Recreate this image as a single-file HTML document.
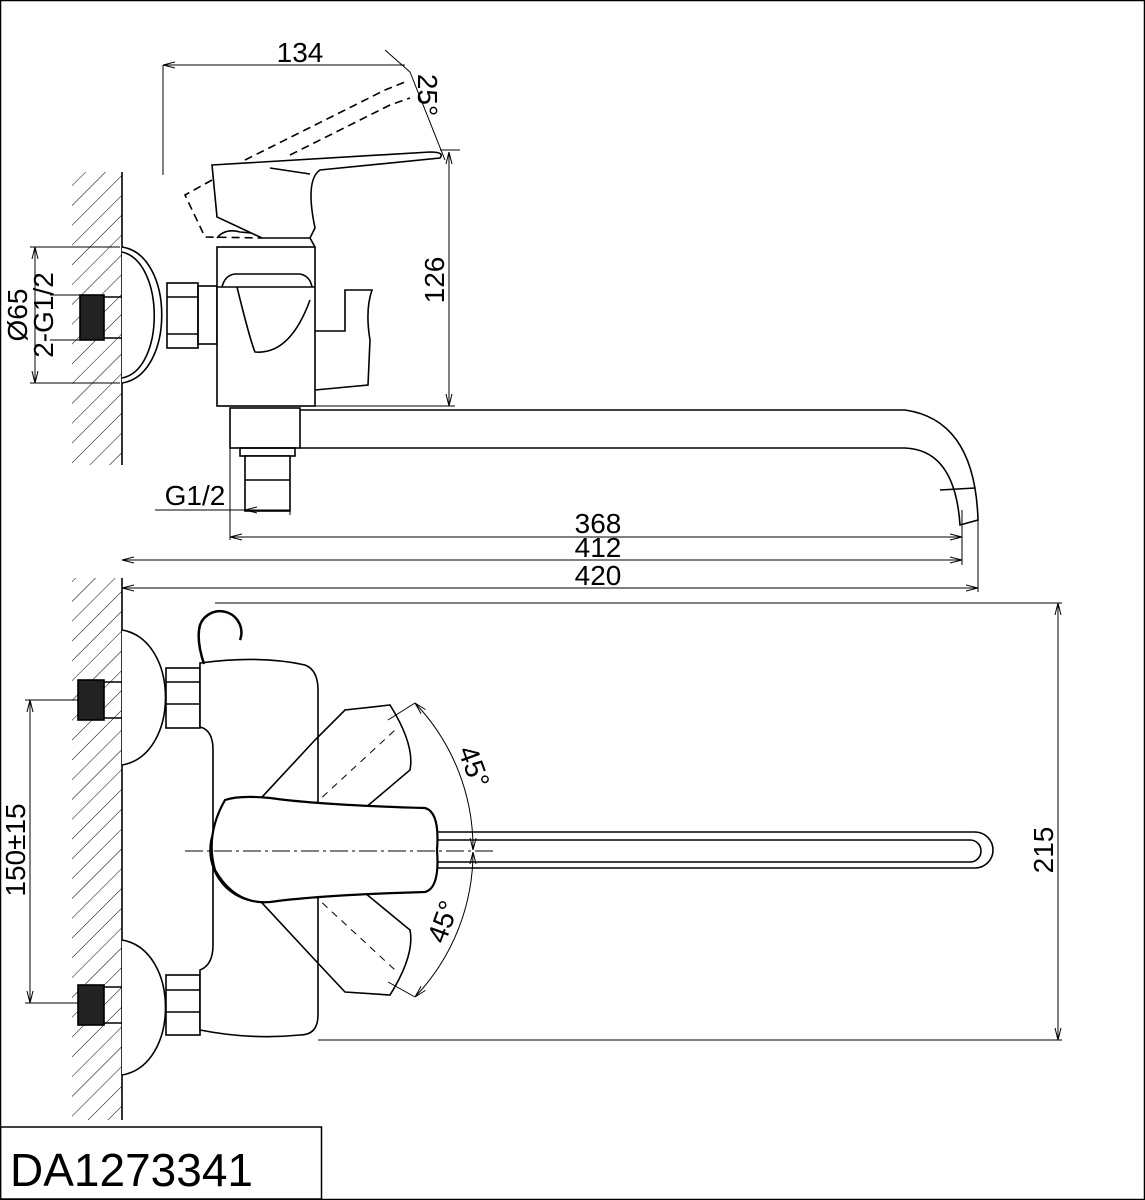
<!DOCTYPE html>
<html><head><meta charset="utf-8"><style>
html,body{margin:0;padding:0;background:#fff}
svg{display:block}
text{font-family:"Liberation Sans",sans-serif;fill:#000}
</style></head><body>
<svg width="1145" height="1200" viewBox="0 0 1145 1200" xmlns="http://www.w3.org/2000/svg">
<defs>
<pattern id="h" width="14" height="14" patternUnits="userSpaceOnUse" patternTransform="rotate(45)">
<line x1="0" y1="0" x2="0" y2="14" stroke="#000" stroke-width="1"/>
</pattern>
<marker id="a" markerWidth="12" markerHeight="8" refX="12" refY="4" orient="auto-start-reverse" markerUnits="userSpaceOnUse">
<path d="M0,1 L12,4 L0,7" fill="none" stroke="#000" stroke-width="1"/>
</marker>
</defs>
<rect x="0.5" y="0.5" width="1144" height="1199" fill="none" stroke="#000" stroke-width="1.5"/>
<rect x="0.5" y="1127" width="321" height="72" fill="none" stroke="#000" stroke-width="1.5"/>
<text x="10" y="1186" font-size="46">DA1273341</text>

<g stroke="#000" fill="none" stroke-width="1.6">
<rect x="72" y="172" width="50" height="293" fill="url(#h)" stroke="none"/>
<line x1="122" y1="172" x2="122" y2="465"/>
<rect x="72" y="578" width="50" height="542" fill="url(#h)" stroke="none"/>
<line x1="122" y1="578" x2="122" y2="1120"/>

<path d="M122,247 C175,255 175,375 122,383" fill="#fff"/>
<path d="M122,252 C165,262 165,370 122,378"/>
<rect x="80" y="295" width="24" height="45" fill="#222"/>
<line x1="104" y1="297" x2="122" y2="297"/><line x1="104" y1="338" x2="122" y2="338"/>
<rect x="167" y="283" width="31" height="65" fill="#fff"/>
<line x1="167" y1="297" x2="198" y2="297"/><line x1="167" y1="334" x2="198" y2="334"/>
<rect x="198" y="286" width="19" height="58"/>
<rect x="217" y="247" width="98" height="159" fill="#fff"/>
<path d="M217,238 Q225,228 240,232 L310,238 L315,247"/>
<path d="M217,287 L315,287"/>
<path d="M222,287 Q225,275 235,274 L300,274 Q310,276 312,287"/>
<path d="M237,287 Q250,340 255,352 Q290,355 310,300"/>
<path d="M315,331 L345,331 L345,290 L372,290 Q365,310 370,340 L368,385 L315,390"/>
<path d="M212,165 L430,152 Q445,152 440,158 L320,170 Q305,180 315,228 L310,238 L262,238 L217,217 Z" fill="#fff"/>
<path d="M270,168 L310,174"/>
<path d="M212,180 L185,195 L205,237 L262,238" stroke-dasharray="8,5"/>
<path d="M245,160 L385,90 L405,82" stroke-dasharray="8,5"/>
<path d="M290,155 L390,105 L410,98" stroke-dasharray="8,5"/>
<rect x="230" y="408" width="70" height="40" fill="#fff"/>
<path d="M300,410 L905,410 Q975,420 978,520 L960,525 Q955,450 905,448 L300,448"/>
<path d="M940,490 L975,488"/>
<rect x="240" y="448" width="55" height="8"/>
<rect x="245" y="456" width="45" height="55" fill="#fff"/>
<line x1="245" y1="480" x2="290" y2="480"/>
<line x1="163" y1="65" x2="163" y2="175" stroke-width="1"/>
<line x1="163" y1="65" x2="405" y2="65" stroke-width="1" marker-start="url(#a)"/>
<line x1="385" y1="50" x2="410" y2="72" stroke-width="1"/>
<line x1="410" y1="72" x2="445" y2="160" stroke-width="1"/>
<line x1="440" y1="150" x2="460" y2="150" stroke-width="1"/>
<line x1="449" y1="152" x2="449" y2="406" stroke-width="1" marker-start="url(#a)" marker-end="url(#a)"/>
<line x1="315" y1="406" x2="455" y2="406" stroke-width="1"/>
<line x1="155" y1="510" x2="245" y2="510" stroke-width="1"/>
<line x1="245" y1="510" x2="290" y2="510" stroke-width="1" marker-start="url(#a)"/>
<line x1="230" y1="448" x2="230" y2="540" stroke-width="1"/>
<line x1="290" y1="480" x2="290" y2="515" stroke-width="1"/>
<line x1="230" y1="537" x2="962" y2="537" stroke-width="1" marker-start="url(#a)" marker-end="url(#a)"/>
<line x1="122" y1="560" x2="962" y2="560" stroke-width="1" marker-start="url(#a)" marker-end="url(#a)"/>
<line x1="962" y1="510" x2="962" y2="565" stroke-width="1"/>
<line x1="122" y1="588" x2="978" y2="588" stroke-width="1" marker-start="url(#a)" marker-end="url(#a)"/>
<line x1="978" y1="520" x2="978" y2="592" stroke-width="1"/>
<line x1="30" y1="247" x2="120" y2="247" stroke-width="1"/>
<line x1="30" y1="383" x2="120" y2="383" stroke-width="1"/>
<line x1="35" y1="247" x2="35" y2="383" stroke-width="1" marker-start="url(#a)" marker-end="url(#a)"/>
<line x1="50" y1="295" x2="80" y2="295" stroke-width="1"/>
<line x1="50" y1="340" x2="80" y2="340" stroke-width="1"/>

<path d="M122,630 C180,640 180,755 122,765" fill="#fff"/>
<path d="M122,940 C180,950 180,1065 122,1075" fill="#fff"/>
<rect x="78" y="680" width="26" height="40" fill="#222"/>
<rect x="78" y="985" width="26" height="40" fill="#222"/>
<line x1="104" y1="682" x2="122" y2="682"/><line x1="104" y1="718" x2="122" y2="718"/>
<line x1="104" y1="987" x2="122" y2="987"/><line x1="104" y1="1023" x2="122" y2="1023"/>
<rect x="166" y="668" width="34" height="60" fill="#fff"/>
<line x1="166" y1="682" x2="200" y2="682"/><line x1="166" y1="704" x2="200" y2="704"/>
<rect x="166" y="975" width="34" height="60" fill="#fff"/>
<line x1="166" y1="990" x2="200" y2="990"/><line x1="166" y1="1012" x2="200" y2="1012"/>
<path d="M200,663 Q260,655 305,665 Q318,670 318,690 L318,1015 Q318,1035 300,1035 Q250,1040 200,1030 L200,970 Q213,965 213,945 L213,750 Q213,730 200,727 Z" fill="#fff"/>
<path d="M204,664 Q196,640 200,625 A20,20 0 1 1 240,640" stroke-width="2.5"/>
<path d="M320,840 L970,840 A10,10 0 0 1 970,862 L320,862" stroke-width="1.6"/>
<path d="M320,832 L975,832 A18,18 0 0 1 975,868 L320,868"/>
<circle cx="262" cy="850" r="52"/>
<path d="M250,810 L315,740 L345,710 L390,705 Q415,745 410,770 L365,808"/>
<path d="M250,890 L315,960 L345,992 L390,995 Q415,955 410,930 L365,893"/>
<path d="M265,850 L395,730 M265,850 L395,970" stroke-dasharray="7,6" stroke-width="1"/>
<path d="M225,800 Q240,795 270,798 Q320,805 425,808 Q440,812 437,850 Q440,888 425,892 Q320,895 270,902 Q235,905 215,870 Q205,835 225,800 Z" fill="#fff" stroke-width="2.2"/>
<line x1="185" y1="851" x2="495" y2="851" stroke-width="1" stroke-dasharray="18,4,3,4"/>
<line x1="388" y1="720" x2="415" y2="703" stroke-width="1"/>
<line x1="388" y1="982" x2="415" y2="997" stroke-width="1"/>
<path d="M415,703 A210,210 0 0 1 473,850" stroke-width="1" marker-start="url(#a)" marker-end="url(#a)"/>
<path d="M473,852 A210,210 0 0 1 415,997" stroke-width="1" marker-start="url(#a)" marker-end="url(#a)"/>
<line x1="215" y1="603" x2="1062" y2="603" stroke-width="1"/>
<line x1="318" y1="1040" x2="1062" y2="1040" stroke-width="1"/>
<line x1="1058" y1="603" x2="1058" y2="1040" stroke-width="1" marker-start="url(#a)" marker-end="url(#a)"/>
<line x1="25" y1="700" x2="78" y2="700" stroke-width="1"/>
<line x1="25" y1="1003" x2="78" y2="1003" stroke-width="1"/>
<line x1="30" y1="700" x2="30" y2="1003" stroke-width="1" marker-start="url(#a)" marker-end="url(#a)"/>
</g>

<g font-size="28">
<text x="300" y="62" text-anchor="middle">134</text>
<text transform="translate(418,95) rotate(90)" text-anchor="middle">25°</text>
<text transform="translate(444,280) rotate(-90)" text-anchor="middle">126</text>
<text transform="translate(27,315) rotate(-90)" text-anchor="middle">Ø65</text>
<text transform="translate(53,315) rotate(-90)" text-anchor="middle">2-G1/2</text>
<text x="195" y="505" text-anchor="middle">G1/2</text>
<text x="598" y="533" text-anchor="middle">368</text>
<text x="598" y="557" text-anchor="middle">412</text>
<text x="598" y="585" text-anchor="middle">420</text>
<text transform="translate(1053,850) rotate(-90)" text-anchor="middle">215</text>
<text transform="translate(25,850) rotate(-90)" text-anchor="middle">150±15</text>
<text transform="translate(465,770) rotate(70)" text-anchor="middle">45°</text>
<text transform="translate(452,925) rotate(-70)" text-anchor="middle">45°</text>
</g>
</svg>
</body></html>
